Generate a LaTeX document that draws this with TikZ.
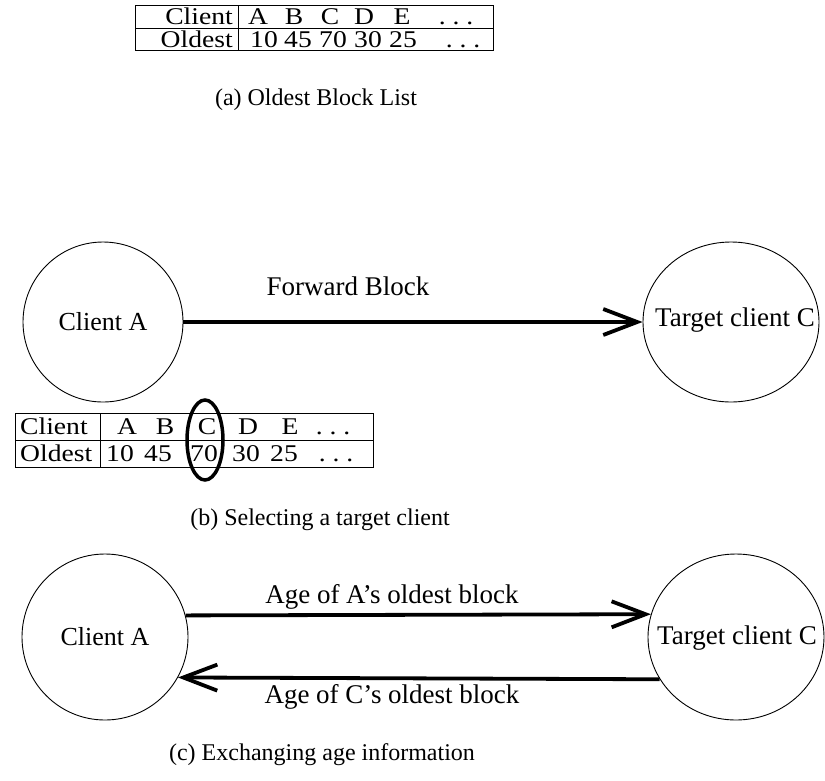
\documentclass[tikz,border=0pt]{standalone}
\usepackage{fontspec}
\setmainfont{Liberation Serif}
\usetikzlibrary{arrows.meta,shapes.geometric}
% table entries are set in a horizontally widened face
\newcommand{\wideface}[1]{\scalebox{1.15}[1]{#1}}
\newcommand{\threedots}{.\hspace{6pt}.\hspace{6pt}.}
\begin{document}
\begin{tikzpicture}[x=1pt,y=-1pt,
  every node/.style={font=\fontsize{26}{30}\selectfont, inner sep=0pt},
  cell/.style={font=\fontsize{24}{28}\selectfont, text height=16pt, text depth=0pt},
  caption/.style={font=\fontsize{24}{28}\selectfont},
  label text/.style={font=\fontsize{27}{30}\selectfont},
  peer/.style={draw, ellipse, line width=0.9pt},
  link/.style={line width=3.8pt, -{Straight Barb[length=34pt,width=26pt,line width=3.8pt]}},
  frame/.style={draw, line width=0.8pt, anchor=north west},
  rule/.style={line width=0.8pt},
  ring/.style={draw, ellipse, line width=3.5pt, minimum width=36pt, minimum height=80pt}
]
\useasboundingbox (0,0) rectangle (825,780);

% ---------- (a) list of oldest blocks ----------
\node[frame, minimum width=358pt, minimum height=45pt] (tabA) at (135,5) {};
\draw[rule] (tabA.west) -- (tabA.east);
\draw[rule] ([xshift=103pt]tabA.north west) -- ([xshift=103pt]tabA.south west);
\node[cell, anchor=east] (aHead1) at (233,16.5) {\wideface{Client}};
\node[cell, anchor=east] (aHead2) at (233,39) {\wideface{Oldest}};
\foreach \t/\x [count=\i] in {A/258,B/294,C/330,D/364,E/402,{\threedots}/456}
  \node[cell] (aC\i) at (\x,16.5) {\wideface{\t}};
\foreach \t/\x [count=\i] in {10/264,45/298,70/333,30/368,25/403,{\threedots}/463}
  \node[cell] (aO\i) at (\x,39) {\wideface{\t}};
\node[caption] (capA) at (316,100) {(a) Oldest Block List};

% ---------- (b) choosing the target ----------
\node[peer, minimum width=160pt, minimum height=160pt] (pA) at (103,322) {};
\node (pAtext) at (pA.center) {Client A};
\node[peer, minimum width=176pt, minimum height=160pt] (pC) at (731,322) {};
\node[label text] (pCtext) at (735,320) {Target client C};
\draw[link] (pA.east) -- (pC.west);
\node[label text] (fwd) at (348,286) {Forward Block};

\node[frame, minimum width=358pt, minimum height=54pt] (tabB) at (15,413) {};
\draw[rule] (tabB.west) -- (tabB.east);
\draw[rule] ([xshift=85pt]tabB.north west) -- ([xshift=85pt]tabB.south west);
\node[cell, anchor=west] (bHead1) at (20,426.5) {\wideface{Client}};
\node[cell, anchor=west] (bHead2) at (20,453.5) {\wideface{Oldest}};
\foreach \t/\x [count=\i] in {A/127,B/165,C/207,D/248,E/290,{\threedots}/333}
  \node[cell] (bC\i) at (\x,426.5) {\wideface{\t}};
\foreach \t/\x [count=\i] in {10/120,45/158,70/204,30/246,25/284,{\threedots}/336}
  \node[cell] (bO\i) at (\x,453.5) {\wideface{\t}};
\node[ring] (pick) at (205,440) {};
\node[caption] (capB) at (320,520) {(b) Selecting a target client};

% ---------- (c) swapping ages ----------
\node[peer, minimum width=166pt, minimum height=166pt] (qA) at (105,637) {};
\node (qAtext) at (qA.center) {Client A};
\node[peer, minimum width=176pt, minimum height=166pt] (qC) at (736,637) {};
\node[label text] (qCtext) at (737,638) {Target client C};
\draw[link] (qA.15) -- (qC.165);
\draw[link] (qC.209) -- (qA.-29);
\node[label text] (ageA) at (392,597) {Age of A’s oldest block};
\node[label text] (ageC) at (392,697) {Age of C’s oldest block};
\node[caption] (capC) at (322,755) {(c) Exchanging age information};
\end{tikzpicture}
\end{document}
